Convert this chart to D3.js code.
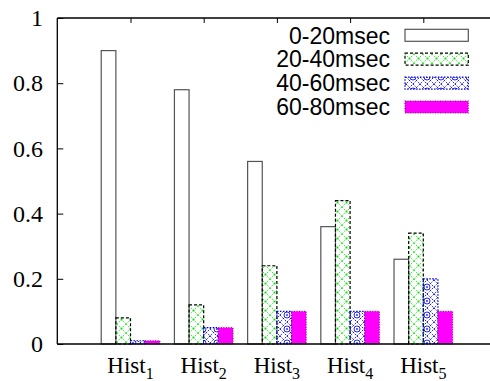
<!DOCTYPE html>
<html><head><meta charset="utf-8">
<script src="https://cdn.jsdelivr.net/npm/d3@7"></script>
<style>body{margin:0;background:#fff}svg{display:block}</style>
</head><body>
<svg id="c" width="490" height="381"></svg>
<script>
const categories = ["1","2","3","4","5"];
const seriesNames = ["0-20msec","20-40msec","40-60msec","60-80msec"];
const s0 = [0.90, 0.78, 0.56, 0.36, 0.26];
const s1 = [0.08, 0.12, 0.24, 0.44, 0.34];
const s2 = [0.01, 0.05, 0.10, 0.10, 0.20];
const s3 = [0.01, 0.05, 0.10, 0.10, 0.10];
const yTicks = [0, 0.2, 0.4, 0.6, 0.8, 1];
const yTickLabels = ["0","0.2","0.4","0.6","0.8","1"];
const series = [s0, s1, s2, s3];

const SERIF = "Liberation Serif";
const SANS = "Liberation Sans";

const svg = d3.select("#c");
const defs = svg.append("defs");
const pg = defs.append("pattern").attr("id","pg").attr("patternUnits","userSpaceOnUse")
  .attr("width",9).attr("height",9);
pg.append("path").attr("d","M0,0L9,9M9,0L0,9").attr("stroke","#22ee22").attr("stroke-width",0.9)
  .attr("stroke-dasharray","1.5,1.2").attr("fill","none");
pg.append("rect").attr("x",3.6).attr("y",3.6).attr("width",1.8).attr("height",1.8).attr("fill","#00dd00");
const pb = defs.append("pattern").attr("id","pb").attr("patternUnits","userSpaceOnUse")
  .attr("width",14).attr("height",14);
pb.append("path").attr("d","M0,0L14,14M14,0L0,14M0,7L7,0M7,14L14,7M0,7L7,14M7,0L14,7")
  .attr("stroke","#0000ee").attr("stroke-width",1).attr("stroke-dasharray","1.2,1.2").attr("fill","none");
pb.append("circle").attr("cx",7).attr("cy",7).attr("r",3).attr("stroke","#2222ff").attr("stroke-width",1).attr("fill","#fff");
pb.append("circle").attr("cx",7).attr("cy",7).attr("r",1).attr("fill","#3333ff");

const fills = ["#ffffff","url(#pg)","url(#pb)","#ff00ff"];
const strokes = ["#555555","#000000","#0000cc","#a000a0"];
const dashes = [null,"3,2","1.5,1.5","1,1.5"];

const L = 57.3, T = 18, B = 344;
const x = d3.scaleLinear().domain([-1,5]).range([L, 496.5]);
const y = d3.scaleLinear().domain([0,1]).range([B, T]);
const bw = x(0.2) - x(0);

series.forEach((s, j) => {
  svg.append("g").selectAll("rect").data(s).join("rect")
    .attr("x", (d,i) => x(i + (j-2)*0.2))
    .attr("y", d => y(d))
    .attr("width", bw)
    .attr("height", d => y(0) - y(d))
    .attr("fill", fills[j])
    .attr("stroke", strokes[j])
    .attr("stroke-width", 1.2)
    .attr("stroke-dasharray", dashes[j]);
});

const frame = svg.append("g").attr("stroke","#000").attr("stroke-width",1.3).attr("fill","none");
frame.append("line").attr("x1",L).attr("x2",490).attr("y1",T).attr("y2",T);
frame.append("line").attr("x1",L).attr("x2",490).attr("y1",B).attr("y2",B);
frame.append("line").attr("x1",L).attr("x2",L).attr("y1",T).attr("y2",B);

const yAxis = d3.axisLeft(y).tickValues(yTicks).tickSize(-6).tickFormat("");
const gy = svg.append("g").attr("transform",`translate(${L},0)`).call(yAxis);
gy.select(".domain").remove();
gy.selectAll(".tick line").attr("stroke","#000").attr("stroke-width",1);
svg.append("g").selectAll("text").data(yTicks).join("text")
  .attr("x", 43).attr("y", d => y(d)).attr("dy","0.34em")
  .attr("text-anchor","end")
  .attr("font-family", SERIF).attr("font-size", 24).attr("fill","#000")
  .text((d,i) => yTickLabels[i]);

const xTop = d3.axisTop(x).tickValues(categories.map((c,i)=>i)).tickSize(-5).tickFormat("");
const gt = svg.append("g").attr("transform",`translate(0,${T})`).call(xTop);
gt.select(".domain").remove();
gt.selectAll(".tick line").attr("stroke","#000").attr("stroke-width",1);

const xl = svg.append("g");
categories.forEach((c,i) => {
  const t = xl.append("text")
    .attr("x", x(i)).attr("y", 373.3)
    .attr("text-anchor","middle")
    .attr("font-family", SERIF).attr("font-size", 23).attr("fill","#000");
  t.append("tspan").text("Hist");
  t.append("tspan").attr("font-size",16).attr("dy",6).text(c);
});

const lg = svg.append("g");
seriesNames.forEach((n,j) => {
  const cy = 35.3 + j*23.9;
  lg.append("text").attr("x",390).attr("y",cy)
    .attr("text-anchor","end").attr("dy","0.36em")
    .attr("font-family", SANS).attr("font-size",23).attr("fill","#000").text(n);
  lg.append("rect").attr("x",405).attr("y",cy-6).attr("width",63.3).attr("height",12)
    .attr("fill",fills[j]).attr("stroke",strokes[j]).attr("stroke-width",1.2)
    .attr("stroke-dasharray",dashes[j]);
});
</script>
</body></html>
